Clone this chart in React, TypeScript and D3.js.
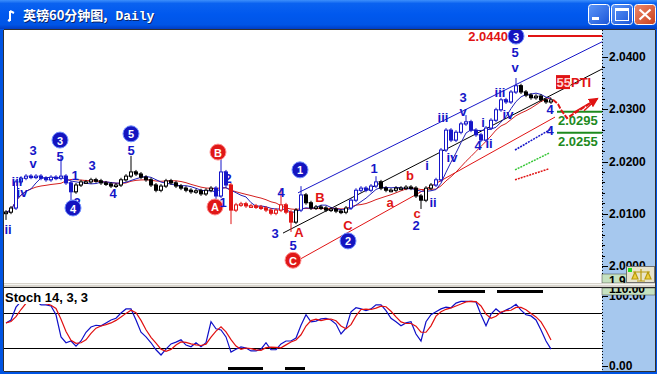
import React from "react";
import * as d3 from "d3";

const W = 657;
const H = 374;

// ---------------- DATA ----------------
const closes = [
  2.0103, 2.0111, 2.0161, 2.0168, 2.0172, 2.017, 2.0172, 2.0168, 2.0165, 2.017,
  2.0168, 2.0172, 2.0159, 2.0142, 2.0155, 2.0161, 2.0161, 2.0165, 2.0163, 2.0159,
  2.0157, 2.0153, 2.0155, 2.0165, 2.0172, 2.018, 2.0176, 2.017, 2.0165, 2.0155,
  2.0145, 2.0153, 2.0163, 2.0159, 2.0153, 2.0149, 2.0145, 2.0142, 2.0144, 2.0138,
  2.0145, 2.0149, 2.0134, 2.018, 2.0155, 2.0107, 2.0117, 2.0119, 2.0115, 2.0115,
  2.0113, 2.0111, 2.0107, 2.0101, 2.0107, 2.0117, 2.0103, 2.0084, 2.0107, 2.0136,
  2.0121, 2.0111, 2.0113, 2.0111, 2.0107, 2.0109, 2.0105, 2.0103, 2.0111, 2.0126,
  2.0145, 2.0149, 2.0145, 2.0153, 2.0161, 2.0149, 2.0145, 2.0145, 2.0149, 2.0149,
  2.0151, 2.0149, 2.0134, 2.0126, 2.0149, 2.0155, 2.0165, 2.0222, 2.026, 2.0241,
  2.0256, 2.0272, 2.0276, 2.026, 2.0251, 2.0241, 2.0264, 2.0279, 2.0299, 2.0318,
  2.0314, 2.0333, 2.0345, 2.0333, 2.0327, 2.0322, 2.0325, 2.0318, 2.0314, 2.0318,
];
const spikeHighs: [number, number][] = [
  [11, 2.0207], [25, 2.0207], [43, 2.0203], [55, 2.0145], [59, 2.0149],
  [74, 2.0168], [92, 2.0285], [102, 2.0356],
];
const spikeLows: [number, number][] = [
  [0, 2.0092], [13, 2.0126], [42, 2.0117], [45, 2.0084], [57, 2.0069], [83, 2.0113],
];
const stochK = [
  63, 68, 90, 100, 100, 100, 100, 94, 94, 92,
  77, 39, 29, 32, 23, 32, 47, 56, 59, 58,
  63, 68, 71, 80, 87, 87, 68, 47, 39, 29,
  17, 8, 18, 27, 30, 34, 25, 22, 29, 22,
  29, 65, 53, 51, 39, 13, 18, 22, 20, 15,
  15, 18, 29, 17, 17, 27, 32, 32, 37, 59,
  77, 65, 66, 70, 71, 68, 61, 44, 54, 82,
  89, 87, 84, 87, 94, 94, 84, 71, 65, 58,
  63, 65, 44, 32, 65, 77, 82, 87, 90, 89,
  97, 100, 100, 100, 99, 77, 58, 78, 87, 80,
  85, 89, 95, 85, 77, 75, 68, 51, 32, 18,
];
const priceTicks = [2.0, 2.01, 2.02, 2.03, 2.04];
const stochTicks = [0, 100];
const signalBarsLow: [number, number][] = [[44.4, 51.4], [55.8, 59.8]];
const signalBarsHigh: [number, number][] = [[86.4, 95.8], [98.2, 107.4]];

// wave labels: text, index, price, colour key, circled
const waveLabels: [string, number, number, string, boolean][] = [
  ["ii", 0.4, 2.0069, "b", false],
  ["iii", 2.2, 2.0161, "b", false],
  ["iv", 3.2, 2.014, "b", false],
  ["3", 5.4, 2.0222, "b", false],
  ["v", 5.4, 2.0197, "b", false],
  ["5", 10.8, 2.0209, "b", false],
  ["3", 10.8, 2.0241, "b", true],
  ["2", 14.2, 2.0122, "b", false],
  ["4", 13.4, 2.0111, "b", true],
  ["1", 13.8, 2.0174, "b", false],
  ["3", 17.2, 2.0193, "b", false],
  ["4", 21.4, 2.0138, "b", false],
  ["5", 25, 2.0222, "b", false],
  ["5", 25, 2.0253, "b", true],
  ["B", 42.4, 2.0218, "r", true],
  ["A", 41.8, 2.0113, "r", true],
  ["2", 44.4, 2.0167, "b", false],
  ["1", 43.4, 2.0122, "b", false],
  ["1", 58.8, 2.0184, "b", true],
  ["4", 55, 2.014, "b", false],
  ["3", 53.8, 2.0063, "b", false],
  ["5", 57.4, 2.004, "b", false],
  ["A", 58.6, 2.0065, "r", false],
  ["B", 62.8, 2.0132, "r", false],
  ["C", 57.4, 2.0011, "r", true],
  ["C", 68.4, 2.0077, "r", false],
  ["2", 68.4, 2.0048, "b", true],
  ["1", 73.6, 2.0186, "b", false],
  ["b", 80.8, 2.0174, "r", false],
  ["a", 76.8, 2.0121, "r", false],
  ["c", 82.2, 2.0101, "r", false],
  ["2", 82, 2.0077, "b", false],
  ["i", 84.2, 2.0193, "b", false],
  ["ii", 85.4, 2.0122, "b", false],
  ["iii", 87.4, 2.0285, "b", false],
  ["iv", 89.2, 2.0207, "b", false],
  ["3", 91.4, 2.0322, "b", false],
  ["v", 91.4, 2.0295, "b", false],
  ["i", 95.4, 2.0274, "b", false],
  ["4", 94.4, 2.023, "b", false],
  ["ii", 96.6, 2.0235, "b", false],
  ["iii", 98.8, 2.0333, "b", false],
  ["iv", 100.4, 2.0289, "b", false],
  ["5", 101.8, 2.0408, "b", false],
  ["v", 101.8, 2.0379, "b", false],
  ["3", 102, 2.044, "b", true],
  ["4", 108.8, 2.03, "b", false],
  ["4", 108.8, 2.026, "b", false],
];

// trend lines: i1, p1, i2, p2, colour key
const trendLines: [number, number, number, number, string][] = [
  [58.4, 2.014, 119.2, 2.0429, "b"],
  [55.4, 2.0063, 119.2, 2.0377, "k"],
  [58.8, 2.0013, 109.8, 2.0285, "r"],
];
const projLines: [number, number, number, number, string][] = [
  [101.8, 2.0222, 109, 2.0262, "b"],
  [101.8, 2.0184, 108.6, 2.0216, "g"],
  [101.8, 2.0165, 108.6, 2.0186, "r"],
];
const projPath: [number, number][] = [
  [109.4, 2.0318], [110.4, 2.031], [111.0, 2.0299], [112.2, 2.0283], [118.2, 2.032],
];
const projExtra: [number, number][] = [[113.4, 2.0293], [115.6, 2.0297]];
// horizontal levels: price, start index, colour key, label
const levels: [number, number, string, string][] = [
  [2.044, 104.4, "r", ""],
  [2.0295, 110.2, "g", "2.0295"],
  [2.0255, 110.2, "g", "2.0255"],
];
const targetTag = { text: "2.0440", i: 100.4, p: 2.044 };
const ptiTag = { num: "55", text: "PTI", i: 110, p: 2.0352 };

// ---------------- STYLE ----------------
const BLUE = "#1616c8";
const RED = "#e01414";
const GREEN = "#1e8a1e";
const COL: Record<string, string> = { b: BLUE, r: RED, k: "#000", g: "#3cc83c" };
const barColorRuns: [number, number, string][] = [
  [2, 13, BLUE], [42, 44, BLUE], [45, 57, RED], [59, 59, BLUE], [69, 74, BLUE], [86, 102, BLUE],
];
const AXIS_BG = "#a6c8ee";
const FONT = "'Liberation Sans', Arial, sans-serif";

const PL = 4, PR = 602, PT = 30, PB = 283;
const ST = 288, SB = 371;

const x = d3.scaleLinear().domain([0, 109]).range([6, 551]);
const y = d3.scaleLinear().domain([2.0, 2.04]).range([266, 57]);
const sy = d3.scaleLinear().domain([20, 80]).range([348, 313]);
const sLabel = d3.scaleLinear().domain([0, 100]).range([366, 296]);

const sma = (arr: number[], n: number) =>
  arr.map((_, i) => d3.mean(arr.slice(Math.max(0, i - n + 1), i + 1)) as number);

function barColor(i: number) {
  for (const [a, b, c] of barColorRuns) if (i >= a && i <= b) return c;
  return "#000";
}

export default function App() {
  const maFast = sma(closes, 6);
  const maSlow = sma(closes, 12);
  const stochD = sma(stochK, 3);
  const line = d3.line<number>().x((_, i) => x(i)).y((d) => y(d));
  const sline = d3.line<number>().x((_, i) => x(i)).y((d) => sy(d));
  const hiMap = new Map(spikeHighs);
  const loMap = new Map(spikeLows);
  const minor = y.ticks(20);

  const ppath = d3.line<[number, number]>().x((d) => x(d[0])).y((d) => y(d[1])).curve(d3.curveLinear);
  const tip = projPath[projPath.length - 1];

  return (
    <div style={{ position: "fixed", left: 0, top: 0 }}>
      <svg width={W} height={H} style={{ display: "block" }}>
        <defs>
          <linearGradient id="tb" x1="0" y1="0" x2="0" y2="1">
            <stop offset="0" stopColor="#3d8ffb" />
            <stop offset="0.12" stopColor="#0a62f0" />
            <stop offset="0.5" stopColor="#0058ee" />
            <stop offset="0.85" stopColor="#0055e6" />
            <stop offset="1" stopColor="#003dc4" />
          </linearGradient>
          <linearGradient id="btn" x1="0" y1="0" x2="1" y2="1">
            <stop offset="0" stopColor="#5d97f8" />
            <stop offset="1" stopColor="#1b55d8" />
          </linearGradient>
          <linearGradient id="cls" x1="0" y1="0" x2="1" y2="1">
            <stop offset="0" stopColor="#ee8a6c" />
            <stop offset="1" stopColor="#c8401c" />
          </linearGradient>
          <clipPath id="mainClip"><rect x={PL} y={PT} width={PR - PL} height={PB - PT} /></clipPath>
          <clipPath id="stClip"><rect x={PL} y={ST} width={PR - PL} height={SB - ST} /></clipPath>
          <clipPath id="g110"><rect x={PR} y={ST} width={53} height={7} /></clipPath>
          <clipPath id="g199"><rect x={PR} y={274} width={24} height={9} /></clipPath>
          <marker id="arr" viewBox="0 0 10 10" refX="8" refY="5" markerWidth="5" markerHeight="5" orient="auto">
            <path d="M0,0 L10,5 L0,10 z" fill={RED} />
          </marker>
        </defs>

        {/* window frame */}
        <rect x={0} y={0} width={W} height={H} fill="#0054e3" />
        <rect x={0} y={0} width={W} height={29} fill="url(#tb)" />
        {/* title icon */}
        <path d="M10,11 L10,21 M10,11 L14,13 M8,20 L10,21" stroke="#fff" strokeWidth={2} fill="none" />
        <text x={23} y={20} fill="#0a246a" fontSize={13} fontWeight="bold" fontFamily="'Noto Sans CJK SC', sans-serif" transform="translate(1,1)">
          英镑60分钟图,<tspan fontFamily="'Liberation Mono', monospace"> Daily</tspan>
        </text>
        <text x={23} y={20} fill="#fff" fontSize={13} fontWeight="bold" fontFamily="'Noto Sans CJK SC', sans-serif">
          英镑60分钟图,<tspan fontFamily="'Liberation Mono', monospace"> Daily</tspan>
        </text>
        {/* window buttons */}
        <rect x={588.5} y={4.5} width={21} height={20} rx={3} fill="url(#btn)" stroke="#fff" />
        <rect x={592} y={17} width={7} height={3} fill="#fff" />
        <rect x={611.5} y={4.5} width={21} height={20} rx={3} fill="url(#btn)" stroke="#fff" />
        <rect x={615.5} y={8.5} width={13} height={12} fill="none" stroke="#fff" />
        <rect x={615.5} y={8.5} width={13} height={2.5} fill="#fff" />
        <rect x={634.5} y={4.5} width={21} height={20} rx={3} fill="url(#cls)" stroke="#fff" />
        <path d="M639.5,9.5 L650.5,19.5 M650.5,9.5 L639.5,19.5" stroke="#fff" strokeWidth={2.2} />

        {/* main pane */}
        <rect x={PL} y={PT} width={PR - PL} height={PB - PT} fill="#fff" />
        <rect x={PR} y={PT} width={655 - PR} height={PB - PT} fill={AXIS_BG} />
        <line x1={PL} y1={PT - 0.5} x2={655} y2={PT - 0.5} stroke="#303030" />
        <line x1={PL - 0.5} y1={PT} x2={PL - 0.5} y2={SB} stroke="#303030" />

        <g clipPath="url(#mainClip)">
          {/* trend lines */}
          {trendLines.map(([i1, p1, i2, p2, c], k) => (
            <line key={"t" + k} x1={x(i1)} y1={y(p1)} x2={x(i2)} y2={y(p2)} stroke={COL[c]} strokeWidth={1} />
          ))}
          {/* moving averages */}
          <path d={line(maSlow) || ""} fill="none" stroke="#d42020" strokeWidth={1} />
          <path d={line(maFast) || ""} fill="none" stroke="#2020b8" strokeWidth={1} />
          {/* bars */}
          {closes.map((c, i) => {
            const o = i === 0 ? closes[0] : closes[i - 1];
            const hi = Math.max(o, c, hiMap.get(i) ?? -Infinity);
            const lo = Math.min(o, c, loMap.get(i) ?? Infinity);
            const col = barColor(i);
            const top = y(Math.max(o, c));
            const h = Math.max(1.5, Math.abs(y(o) - y(c)));
            return (
              <g key={"c" + i}>
                <line x1={x(i)} y1={y(hi) - 2} x2={x(i)} y2={y(lo) + 2} stroke={col} strokeWidth={1} />
                <line x1={x(i) - 2.5} y1={y(o)} x2={x(i)} y2={y(o)} stroke={col} strokeWidth={1} />
                <rect x={x(i) - 1.5} y={top} width={3} height={h} fill={c >= o ? "#fff" : col} stroke={col} strokeWidth={1} />
              </g>
            );
          })}
          {/* projection lines */}
          {projLines.map(([i1, p1, i2, p2, c], k) => (
            <line key={"p" + k} x1={x(i1)} y1={y(p1)} x2={x(i2)} y2={y(p2)} stroke={COL[c]} strokeWidth={1.5} strokeDasharray="2,1" />
          ))}
          {/* levels */}
          {levels.map(([p, i0, c], k) => (
            <line key={"l" + k} x1={x(i0)} y1={y(p)} x2={PR} y2={y(p)} stroke={c === "g" ? GREEN : RED} strokeWidth={2} />
          ))}
          {levels.filter((l) => l[3]).map(([p, i0, , lab], k) => (
            <text key={"lt" + k} x={x(i0) + 1} y={y(p) + 9} dominantBaseline="central" fill={GREEN} fontSize={13} fontWeight="bold" fontFamily={FONT}>{lab}</text>
          ))}
          {/* projected path */}
          <path d={ppath(projPath) || ""} fill="none" stroke={RED} strokeWidth={2} strokeDasharray="5,1.5" markerEnd="url(#arr)" />
          {projExtra.map((d, k) => (
            <line key={"pe" + k} x1={x(d[0])} y1={y(d[1])} x2={x(tip[0])} y2={y(tip[1])} stroke={RED} strokeWidth={1.5} />
          ))}
          {/* target tag */}
          <text x={x(targetTag.i)} y={y(targetTag.p)} textAnchor="end" dominantBaseline="central" fill={RED} fontSize={13} fontWeight="bold" fontFamily={FONT}>{targetTag.text}</text>
          <rect x={x(ptiTag.i)} y={y(ptiTag.p) - 7} width={14} height={14} fill={RED} />
          <text x={x(ptiTag.i) + 0.5} y={y(ptiTag.p)} dominantBaseline="central" fill="#ffd0d0" fontSize={13} fontWeight="bold" fontFamily={FONT}>{ptiTag.num}</text>
          <text x={x(ptiTag.i) + 15} y={y(ptiTag.p)} dominantBaseline="central" fill={RED} fontSize={13} fontWeight="bold" fontFamily={FONT}>{ptiTag.text}</text>
          {/* wave labels */}
          {waveLabels.map(([t, i, p, c, circ], k) =>
            circ ? (
              <g key={"w" + k}>
                <circle cx={x(i)} cy={y(p)} r={8} fill={c === "b" ? "#1414c0" : "#e01818"} stroke={c === "b" ? "#7090ff" : "#ff9090"} strokeWidth={1} />
                <text x={x(i)} y={y(p) + 0.5} textAnchor="middle" dominantBaseline="central" fill="#fff" fontSize={11} fontWeight="bold" fontFamily={FONT}>{t}</text>
              </g>
            ) : (
              <text key={"w" + k} x={x(i)} y={y(p)} textAnchor="middle" dominantBaseline="central" fill={COL[c]} fontSize={13} fontWeight="bold" fontFamily={FONT}>{t}</text>
            )
          )}
        </g>

        {/* price axis */}
        <line x1={PR + 0.5} y1={PT} x2={PR + 0.5} y2={PB} stroke="#000" strokeDasharray="1,2" />
        {minor.map((p) => (
          <line key={"m" + p} x1={PR} y1={Math.round(y(p)) + 0.5} x2={PR + 3} y2={Math.round(y(p)) + 0.5} stroke="#000" />
        ))}
        {priceTicks.map((p) => (
          <g key={"pt" + p}>
            <line x1={PR} y1={Math.round(y(p)) + 0.5} x2={PR + 6} y2={Math.round(y(p)) + 0.5} stroke="#000" />
            <text x={PR + 7} y={y(p)} dominantBaseline="central" fontSize={12} fontWeight="bold" fontFamily={FONT} fill="#000">{p.toFixed(4)}</text>
          </g>
        ))}
        <rect x={PR} y={274} width={53} height={9} fill="#c6e2c0" stroke="#404040" strokeWidth={0.5} />
        <g clipPath="url(#g199)">
          <text x={PR + 7} y={281} dominantBaseline="central" fontSize={12} fontWeight="bold" fontFamily={FONT} fill="#000">1.9</text>
        </g>
        {/* icon */}
        <rect x={626.5} y={266.5} width={28} height={16} fill="#e8e4cc" stroke="#707070" />
        <rect x={628} y={268} width={4} height={4} fill="#22dd22" />
        <path d="M633,272 L650,272 M641,269 L641,281 M635,272 L632,279 L638,279 z M648,272 L645,279 L651,279 z M637,281 L645,281" stroke="#b89a10" strokeWidth={1.2} fill="#f0d040" />

        {/* splitter */}
        <rect x={PL} y={PB} width={655 - PL} height={ST - PB} fill="#d8d4cc" />
        <line x1={PL} y1={PB + 1.5} x2={655} y2={PB + 1.5} stroke="#f4f4f0" />
        <line x1={PL} y1={ST - 0.5} x2={655} y2={ST - 0.5} stroke="#202020" />

        {/* stochastic pane */}
        <rect x={PL} y={ST} width={PR - PL} height={SB - ST} fill="#fff" />
        <rect x={PR} y={ST} width={655 - PR} height={SB - ST} fill={AXIS_BG} />
        <line x1={PL} y1={Math.round(sy(80)) + 0.5} x2={PR} y2={Math.round(sy(80)) + 0.5} stroke="#000" />
        <line x1={PL} y1={Math.round(sy(20)) + 0.5} x2={PR} y2={Math.round(sy(20)) + 0.5} stroke="#000" />
        <g clipPath="url(#stClip)">
          <path d={sline(stochK) || ""} fill="none" stroke="#1010c8" strokeWidth={1.2} />
          <path d={sline(stochD) || ""} fill="none" stroke="#e01010" strokeWidth={1.2} />
          {signalBarsLow.map(([a, b], k) => (
            <rect key={"sl" + k} x={x(a)} y={SB - 4} width={x(b) - x(a)} height={3} fill="#000" />
          ))}
          {signalBarsHigh.map(([a, b], k) => (
            <rect key={"sh" + k} x={x(a)} y={ST + 2} width={x(b) - x(a)} height={3} fill="#000" />
          ))}
        </g>
        <rect x={PL} y={ST + 1} width={84} height={15} fill="#fff" />
        <text x={5} y={ST + 14} fontSize={13} fontWeight="bold" fontFamily={FONT} fill="#000">Stoch 14, 3, 3</text>
        <line x1={PR + 0.5} y1={ST} x2={PR + 0.5} y2={SB} stroke="#000" strokeDasharray="1,2" />
        <line x1={PR} y1={331.5} x2={PR + 3} y2={331.5} stroke="#000" />
        {stochTicks.map((v) => (
          <g key={"st" + v}>
            <line x1={PR} y1={Math.round(sLabel(v)) + 0.5} x2={PR + 6} y2={Math.round(sLabel(v)) + 0.5} stroke="#000" />
            <text x={PR + 7} y={sLabel(v)} dominantBaseline="central" fontSize={12} fontWeight="bold" fontFamily={FONT} fill="#000">{v.toFixed(2)}</text>
          </g>
        ))}
        <rect x={PR} y={ST} width={53} height={7} fill="#c6e2c0" stroke="#404040" strokeWidth={0.5} />
        <g clipPath="url(#g110)">
          <text x={PR + 7} y={ST + 1} dominantBaseline="central" fontSize={12} fontWeight="bold" fontFamily={FONT} fill="#000">110.00</text>
        </g>
        <line x1={655.5} y1={PT} x2={655.5} y2={SB} stroke="#303030" />
        <line x1={PL} y1={SB + 0.5} x2={656} y2={SB + 0.5} stroke="#303030" />
      </svg>
    </div>
  );
}
